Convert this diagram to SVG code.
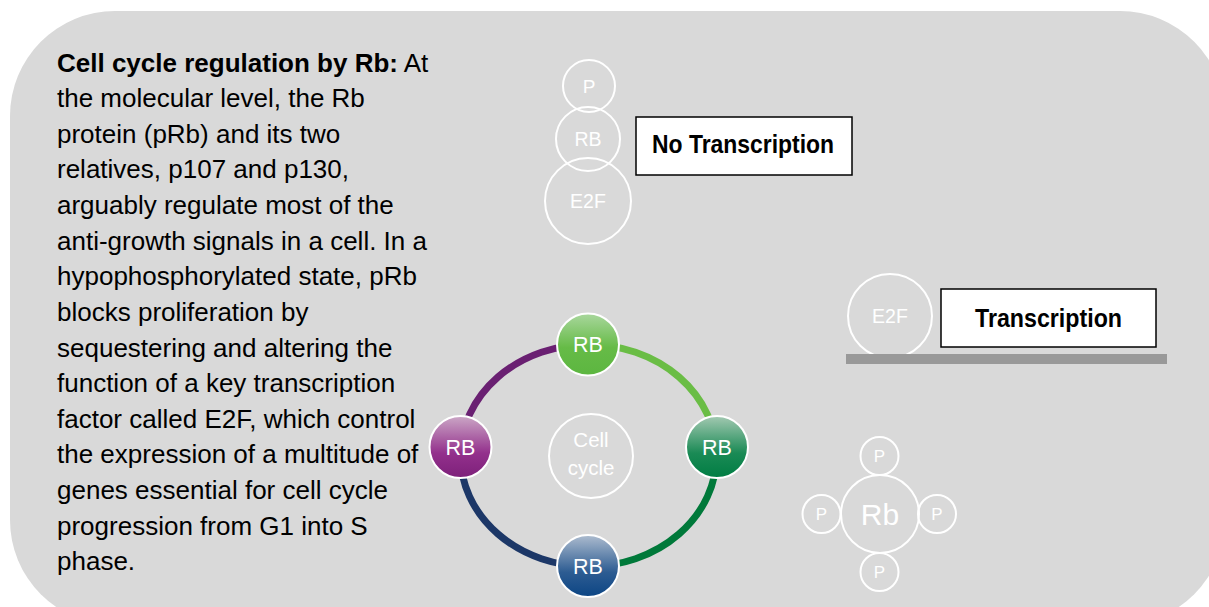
<svg xmlns="http://www.w3.org/2000/svg" width="1209" height="607" viewBox="0 0 1209 607">
<defs>
<style>
.para{font-family:"Liberation Sans",Arial,sans-serif;font-size:26px;fill:#000}
.b{font-weight:bold}
.wc{fill:none;stroke:#ffffff;stroke-width:2}
.wt{font-family:"Liberation Sans",Arial,sans-serif;fill:#ffffff;text-anchor:middle}
.box{fill:#ffffff;stroke:#000000;stroke-width:1.5}
.bt{font-family:"Liberation Sans",Arial,sans-serif;font-weight:bold;fill:#000}
.ring{fill:none;stroke-width:7}
.rbn{stroke:#ffffff;stroke-width:2}
</style>
<linearGradient id="gGreen" x1="0" y1="0" x2="0" y2="1"><stop offset="0" stop-color="#a9d79d"/><stop offset="0.55" stop-color="#66bb47"/><stop offset="1" stop-color="#5cb640"/></linearGradient>
<linearGradient id="gTeal" x1="0" y1="0" x2="0" y2="1"><stop offset="0" stop-color="#a3c9b2"/><stop offset="0.6" stop-color="#1a8a55"/><stop offset="1" stop-color="#007d43"/></linearGradient>
<linearGradient id="gPurple" x1="0" y1="0" x2="0" y2="1"><stop offset="0" stop-color="#cba7c6"/><stop offset="0.6" stop-color="#93308c"/><stop offset="1" stop-color="#7d207a"/></linearGradient>
<linearGradient id="gBlue" x1="0" y1="0" x2="0" y2="1"><stop offset="0" stop-color="#adbccf"/><stop offset="0.6" stop-color="#2d5c92"/><stop offset="1" stop-color="#0c4584"/></linearGradient>
</defs>
<rect x="0" y="0" width="1209" height="607" fill="#ffffff"/>
<rect id="panel" x="10" y="11" width="1215" height="614" rx="105" ry="105" fill="#d9d9d9"/>

<g id="description">
<text class="para" x="57" y="71.5"><tspan class="b">Cell cycle regulation by Rb:</tspan> At</text>
<text class="para" x="57" y="107.1">the molecular level, the Rb</text>
<text class="para" x="57" y="142.8">protein (pRb) and its two</text>
<text class="para" x="57" y="178.4">relatives, p107 and p130,</text>
<text class="para" x="57" y="214">arguably regulate most of the</text>
<text class="para" x="57" y="249.6">anti-growth signals in a cell. In a</text>
<text class="para" x="57" y="285.3">hypophosphorylated state, pRb</text>
<text class="para" x="57" y="320.9">blocks proliferation by</text>
<text class="para" x="57" y="356.5">sequestering and altering the</text>
<text class="para" x="57" y="392.1">function of a key transcription</text>
<text class="para" x="57" y="427.8">factor called E2F, which control</text>
<text class="para" x="57" y="463.4">the expression of a multitude of</text>
<text class="para" x="57" y="499">genes essential for cell cycle</text>
<text class="para" x="57" y="534.6">progression from G1 into S</text>
<text class="para" x="57" y="570.2">phase.</text>
</g>

<g id="complex-bound">
<circle class="wc" cx="589" cy="86" r="26"/>
<text class="wt" x="589" y="92.5" font-size="19">P</text>
<circle class="wc" cx="588" cy="139" r="32"/>
<text class="wt" x="588" y="145.5" font-size="19.5">RB</text>
<circle class="wc" cx="588" cy="201" r="43"/>
<text class="wt" x="588" y="207.5" font-size="19.5">E2F</text>
</g>

<g id="no-transcription">
<rect class="box" x="636" y="117" width="216" height="58"/>
<text class="bt" x="652" y="153" font-size="25.5" textLength="182" lengthAdjust="spacingAndGlyphs">No Transcription</text>
</g>

<g id="e2f-free">
<circle class="wc" cx="890" cy="316" r="42"/>
<text class="wt" x="890" y="322.5" font-size="19.5">E2F</text>
</g>

<g id="dna">
<rect x="846" y="354" width="321" height="10" fill="#999999"/>
</g>

<g id="transcription">
<rect class="box" x="941" y="289" width="215" height="58"/>
<text class="bt" x="975" y="327" font-size="26" textLength="147" lengthAdjust="spacingAndGlyphs">Transcription</text>
</g>

<g id="connectors">
<path class="ring" stroke="#6abd45" d="M588.5,344.5 A128,111 0 0 1 716.5,455.5"/>
<path class="ring" stroke="#00793a" d="M716.5,455.5 A128,111 0 0 1 588.5,566.5"/>
<path class="ring" stroke="#1c3767" d="M588.5,566.5 A128,111 0 0 1 460.5,455.5"/>
<path class="ring" stroke="#6a2072" d="M460.5,455.5 A128,111 0 0 1 588.5,344.5"/>
</g>

<g id="cell-cycle">
<circle class="wc" cx="591" cy="456" r="42"/>
<text class="wt" x="591" y="447" font-size="20.5">Cell</text>
<text class="wt" x="591" y="475" font-size="20.5">cycle</text>
</g>

<g id="rb-top">
<circle class="rbn" cx="588" cy="344.5" r="31" fill="url(#gGreen)"/>
<text class="wt" x="588" y="352" font-size="21.5">RB</text>
</g>
<g id="rb-right">
<circle class="rbn" cx="717" cy="447" r="31" fill="url(#gTeal)"/>
<text class="wt" x="717" y="454.5" font-size="21.5">RB</text>
</g>
<g id="rb-bottom">
<circle class="rbn" cx="588" cy="566" r="31" fill="url(#gBlue)"/>
<text class="wt" x="588" y="573.5" font-size="21.5">RB</text>
</g>
<g id="rb-left">
<circle class="rbn" cx="460.5" cy="447" r="31" fill="url(#gPurple)"/>
<text class="wt" x="460.5" y="454.5" font-size="21.5">RB</text>
</g>

<g id="phospho-rb">
<circle class="wc" cx="880" cy="514" r="39"/>
<text class="wt" x="880" y="525" font-size="30">Rb</text>
<circle class="wc" cx="879.5" cy="456" r="19"/>
<text class="wt" x="879.5" y="462" font-size="17">P</text>
<circle class="wc" cx="879.5" cy="572" r="19"/>
<text class="wt" x="879.5" y="578" font-size="17">P</text>
<circle class="wc" cx="821.5" cy="514" r="19"/>
<text class="wt" x="821.5" y="520" font-size="17">P</text>
<circle class="wc" cx="937" cy="514" r="19"/>
<text class="wt" x="937" y="520" font-size="17">P</text>
</g>
</svg>
